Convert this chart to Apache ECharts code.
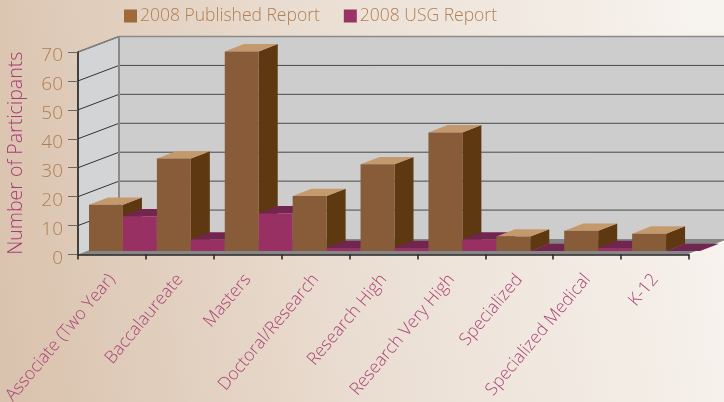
<!DOCTYPE html>
<html>
<head>
<meta charset="utf-8">
<style>
html, body { margin: 0; padding: 0; }
#chart { width: 724px; height: 402px; }
</style>
<script src="https://cdn.jsdelivr.net/npm/echarts@6/dist/echarts.min.js"></script>
</head>
<body>
<div id="chart"></div>
<script>
// values
const categories = ['Associate (Two Year)', 'Baccalaureate', 'Masters', 'Doctoral/Research', 'Research High', 'Research Very High', 'Specialized', 'Specialized Medical', 'K-12'];
const published = [16, 32, 69, 19, 30, 41, 5, 7, 6];
const usg = [12, 4, 13, 1, 1, 4, 0, 1, 0];
const yTicks = [0, 10, 20, 30, 40, 50, 60, 70];

const fontName = '"Open Sans", "Noto Sans", sans-serif';
// 3d look, in pixels
const wallDx = 41, wallDy = 15.5;
const barDx = 19, barDy = 7.3;
const floorDx = 11, floorDy = 3.5;

function poly(points, fill, z2) {
    return { type: 'polygon', z2: z2, shape: { points: points }, style: { fill: fill } };
}

function line(x1, y1, x2, y2, color, width, z2) {
    return { type: 'line', z2: z2, shape: { x1, y1, x2, y2 }, style: { stroke: color, lineWidth: width } };
}

// back wall, side wall, floor and grid lines
function renderWalls(params, api) {
    const cs = params.coordSys;
    const left = cs.x, right = cs.x + cs.width;
    const bottom = cs.y + cs.height, top = cs.y;
    const kids = [
        poly([[left, top], [left + wallDx, top - wallDy], [left + wallDx, bottom - wallDy], [left, bottom]], '#d2d4d5', 1),
        poly([[left + wallDx, top - wallDy], [right + wallDx, top - wallDy], [right + wallDx, bottom - wallDy], [left + wallDx, bottom - wallDy]], '#cdcdcd', 1),
        poly([[left, bottom], [left + wallDx, bottom - wallDy], [right + wallDx, bottom - wallDy], [right, bottom]], '#868686', 2)
    ];
    yTicks.forEach(function(t) {
        const y = api.coord([0, t])[1];
        if (t > 0 && t < 70) {
            kids.push(line(left + wallDx, y - wallDy, right + wallDx, y - wallDy, '#4a4a4a', 1, 3));
        }
        if (t > 0) {
            kids.push(line(left, y, left + wallDx, y - wallDy, '#333333', 1, 3));
        }
    });
    kids.push(line(left, top, left + wallDx, top - wallDy, '#808080', 1.5, 3));
    kids.push(line(left + wallDx, top - wallDy, right + wallDx, top - wallDy, '#8a8a8a', 1.5, 3));
    kids.push(line(left + wallDx, top - wallDy, left + wallDx, bottom - wallDy, '#8a8a8a', 2, 3));
    kids.push(line(right, bottom, right + wallDx, bottom - wallDy, '#fbf9f6', 1.5, 3));
    return { type: 'group', children: kids };
}

// one 3d bar; slot 0 is the left bar in the cluster, slot 1 the right one
function barRenderer(slot, front, side, topFace) {
    return function(params, api) {
        const i = api.value(0);
        const step = api.size([1, 0])[0];
        const barW = step / 2;
        const center = api.coord([i, 0])[0];
        const x0 = center - step / 2 + floorDx + slot * barW;
        const x1 = x0 + barW;
        const base = api.coord([i, 0])[1] - floorDy;
        const y = api.coord([i, api.value(1)])[1] - floorDy;
        const z = 10 + i * 2 + slot;
        return {
            type: 'group',
            children: [
                poly([[x1, base], [x1 + barDx, base - barDy], [x1 + barDx, y - barDy], [x1, y]], side, z),
                poly([[x0, y], [x0 + barDx, y - barDy], [x1 + barDx, y - barDy], [x1, y]], topFace, z),
                poly([[x0, base], [x1, base], [x1, y], [x0, y]], front, z)
            ]
        };
    };
}

const chart = echarts.init(document.getElementById('chart'));
chart.setOption({
    animation: false,
    backgroundColor: new echarts.graphic.LinearGradient(0, 0.7, 1, 0.4, [
        { offset: 0, color: '#dac3ae' },
        { offset: 0.5, color: '#ebdfd4' },
        { offset: 1, color: '#f7f3ee' }
    ]),
    legend: {
        left: 119,
        top: 2,
        itemWidth: 13,
        itemHeight: 13,
        itemGap: 24,
        icon: 'rect',
        data: ['2008 Published Report', '2008 USG Report'],
        textStyle: { color: '#b07f52', fontSize: 17.5, fontWeight: 300, fontFamily: fontName, padding: [0, 0, 0, -2] }
    },
    grid: { left: 78, right: 35, top: 52, bottom: 147.5, outerBoundsMode: 'none' },
    xAxis: {
        type: 'category',
        data: categories,
        z: 20,
        axisLine: { lineStyle: { color: '#222222', width: 1.5 } },
        axisTick: { show: true, length: 5, lineStyle: { color: '#222222', width: 1.5 } },
        axisLabel: { rotate: 50, color: '#ac4577', fontSize: 17.5, fontWeight: 300, fontFamily: fontName, margin: 22, interval: 0 }
    },
    yAxis: {
        type: 'value',
        min: 0,
        max: 70,
        interval: 10,
        z: 20,
        name: 'Number of Participants',
        nameLocation: 'middle',
        nameGap: 52,
        nameTextStyle: { color: '#a83c74', fontSize: 19.5, fontWeight: 300, fontFamily: fontName },
        axisLine: { show: true, lineStyle: { color: '#111111', width: 1.5 } },
        axisTick: { show: true, length: 10, lineStyle: { color: '#666666' } },
        axisLabel: { color: '#b07f52', fontSize: 19, fontWeight: 300, fontFamily: fontName, margin: 15, verticalAlign: 'top', lineHeight: 8 },
        splitLine: { show: false }
    },
    series: [
        {
            type: 'custom',
            silent: true,
            renderItem: renderWalls,
            data: [[0, 0]],
            z: 1
        },
        {
            name: '2008 Published Report',
            type: 'custom',
            renderItem: barRenderer(0, '#885c39', '#5e3810', '#c49a6c'),
            itemStyle: { color: '#a0693a' },
            data: published.map(function(v, i) { return [i, v]; }),
            z: 2
        },
        {
            name: '2008 USG Report',
            type: 'custom',
            renderItem: barRenderer(1, '#993064', '#72254e', '#72254e'),
            itemStyle: { color: '#993366' },
            data: usg.map(function(v, i) { return [i, v]; }),
            z: 2
        }
    ]
});
</script>
</body>
</html>
